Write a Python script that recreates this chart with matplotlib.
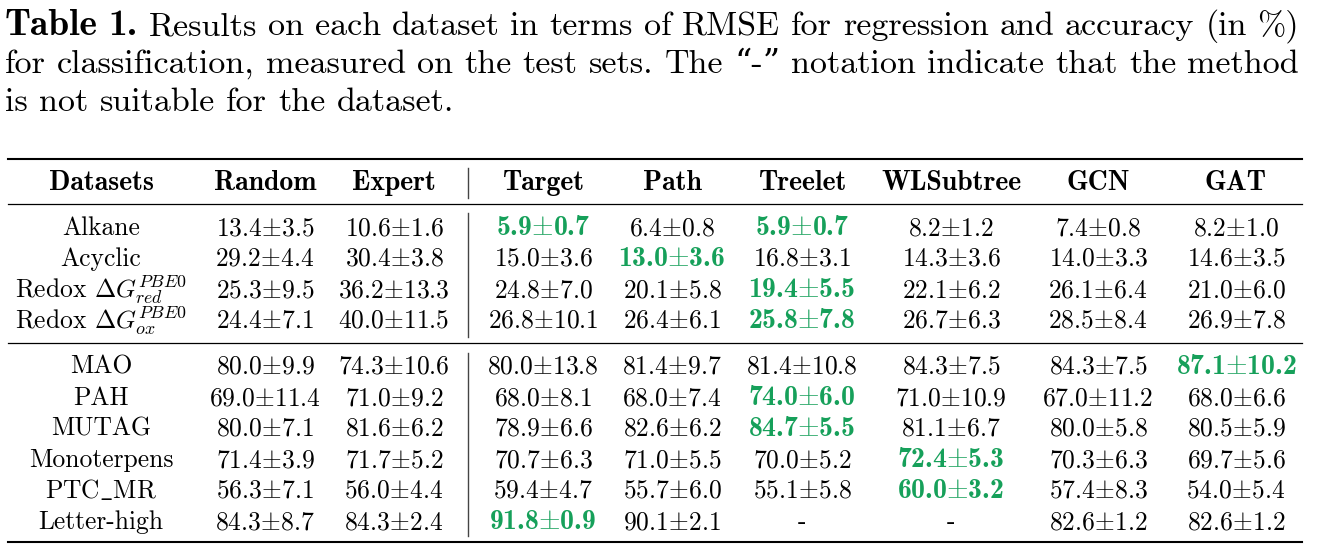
import numpy as np
import matplotlib
matplotlib.use("Agg")
import matplotlib.pyplot as plt

plt.rcParams['mathtext.fontset'] = 'cm'
plt.rcParams['axes.formatter.use_mathtext'] = True

datasets = ['Alkane', 'Acyclic',
            r'Redox $\Delta G_{red}^{PBE0}$', r'Redox $\Delta G_{ox}^{PBE0}$',
            'MAO', 'PAH', 'MUTAG', 'Monoterpens', r'PTC$\_$MR', 'Letter-high']
methods = ['Random', 'Expert', 'Target', 'Path', 'Treelet', 'WLSubtree', 'GCN', 'GAT']
baselines = 2      # Random and Expert are not in the "best" comparison
n_regression = 4   # first 4 rows: RMSE (lower better), rest accuracy (higher better)

random_mean = [13.4, 29.2, 25.3, 24.4, 80.0, 69.0, 80.0, 71.4, 56.3, 84.3]
random_std = [3.5, 4.4, 9.5, 7.1, 9.9, 11.4, 7.1, 3.9, 7.1, 8.7]
expert_mean = [10.6, 30.4, 36.2, 40.0, 74.3, 71.0, 81.6, 71.7, 56.0, 84.3]
expert_std = [1.6, 3.8, 13.3, 11.5, 10.6, 9.2, 6.2, 5.2, 4.4, 2.4]
target_mean = [5.9, 15.0, 24.8, 26.8, 80.0, 68.0, 78.9, 70.7, 59.4, 91.8]
target_std = [0.7, 3.6, 7.0, 10.1, 13.8, 8.1, 6.6, 6.3, 4.7, 0.9]
path_mean = [6.4, 13.0, 20.1, 26.4, 81.4, 68.0, 82.6, 71.0, 55.7, 90.1]
path_std = [0.8, 3.6, 5.8, 6.1, 9.7, 7.4, 6.2, 5.5, 6.0, 2.1]
treelet_mean = [5.9, 16.8, 19.4, 25.8, 81.4, 74.0, 84.7, 70.0, 55.1, None]
treelet_std = [0.7, 3.1, 5.5, 7.8, 10.8, 6.0, 5.5, 5.2, 5.8, None]
wl_mean = [8.2, 14.3, 22.1, 26.7, 84.3, 71.0, 81.1, 72.4, 60.0, None]
wl_std = [1.2, 3.6, 6.2, 6.3, 7.5, 10.9, 6.7, 5.3, 3.2, None]
gcn_mean = [7.4, 14.0, 26.1, 28.5, 84.3, 67.0, 80.0, 70.3, 57.4, 82.6]
gcn_std = [0.8, 3.3, 6.4, 8.4, 7.5, 11.2, 5.8, 6.3, 8.3, 1.2]
gat_mean = [8.2, 14.6, 21.0, 26.9, 87.1, 68.0, 80.5, 69.7, 54.0, 82.6]
gat_std = [1.0, 3.5, 6.0, 7.8, 10.2, 6.6, 5.9, 5.6, 5.4, 1.2]

means = [random_mean, expert_mean, target_mean, path_mean, treelet_mean, wl_mean, gcn_mean, gat_mean]
stds = [random_std, expert_std, target_std, path_std, treelet_std, wl_std, gcn_std, gat_std]

caption = ("Results on each dataset in terms of RMSE for regression and accuracy (in %) "
           "for classification, measured on the test sets. The \u201c-\u201d notation indicate "
           "that the method is not suitable for the dataset.")

# ---- layout ----
GREEN = '#16a05a'
RM = ['cmr10', 'DejaVu Serif']
BF = ['cmb10', 'DejaVu Serif']
tab_fs = 18.4
tab_bf = 20.0

fig = plt.figure(figsize=(13.24, 5.52), dpi=100)
ax = fig.add_axes([0, 0, 1, 1])
ax.set_xlim(0, 1324)
ax.set_ylim(552, 0)
ax.axis('off')
renderer = fig.canvas.get_renderer()

cap_left, cap_right = 5, 1299
x_left, x_right = 8, 1302

# caption font size: the second line fills the width with normal spaces
words_plain = caption.split()
line2 = words_plain[14:28]
probe = [ax.text(0, 0, w, family=RM, fontsize=10) for w in line2]
w10 = sum(t.get_window_extent(renderer).width for t in probe)
for t in probe:
    t.remove()
space_per_pt = 100 / 72 * 0.333
cap_fs = (cap_right - cap_left) / (w10 / 10 + (len(line2) - 1) * space_per_pt)
cap_bf = cap_fs * 1.1

# caption, justified word by word
words = [('Table', BF, cap_bf), ('1.', BF, cap_bf)] + [(w, RM, cap_fs) for w in words_plain]
lines = [words[:16], words[16:30], words[30:]]
cap_base = [35, 73, 111]
for li, (line, yb) in enumerate(zip(lines, cap_base)):
    ts = [ax.text(0, yb, w, family=f, fontsize=s, va='baseline', ha='left') for w, f, s in line]
    ws = [t.get_window_extent(renderer).width for t in ts]
    if li < len(lines) - 1:
        gap = (cap_right - cap_left - sum(ws)) / (len(ts) - 1)
    else:
        gap = cap_fs * space_per_pt
    x = cap_left
    for t, w in zip(ts, ws):
        t.set_x(x)
        x += w + gap

# table rules
ax.plot([x_left, x_right], [159, 159], color='black', lw=1.5)
ax.plot([x_left, x_right], [204, 204], color='black', lw=0.9)
ax.plot([x_left, x_right], [343, 343], color='black', lw=0.9)
ax.plot([x_left, x_right], [542, 542], color='black', lw=1.5)
vx = 468
for y0, y1 in [(168, 198), (213, 337), (353, 536)]:
    ax.plot([vx, vx], [y0, y1], color='#444444', lw=1.0)

col_x = [101, 265, 394, 543, 672, 802, 951, 1098, 1236]
header_base = 190
row_base = [235, 266, 297, 328, 374, 405, 436, 467, 498, 529]

ax.text(col_x[0], header_base, 'Datasets', family=BF, fontsize=tab_bf, ha='center', va='baseline')
for j, m in enumerate(methods):
    ax.text(col_x[j + 1], header_base, m, family=BF, fontsize=tab_bf, ha='center', va='baseline')

for i, name in enumerate(datasets):
    ax.text(col_x[0], row_base[i], name, family=RM, fontsize=tab_fs, ha='center', va='baseline')
    cand = [means[j][i] for j in range(baselines, len(methods)) if means[j][i] is not None]
    best = min(cand) if i < n_regression else max(cand)
    for j in range(len(methods)):
        m, s = means[j][i], stds[j][i]
        if m is None:
            ax.text(col_x[j + 1], row_base[i], '-', family=RM, fontsize=tab_fs, ha='center', va='baseline')
            continue
        txt = f'{m:.1f}$\\pm${s:.1f}'
        if j >= baselines and m == best:
            ax.text(col_x[j + 1], row_base[i], txt, family=BF, fontsize=tab_bf,
                    ha='center', va='baseline', color=GREEN)
        else:
            ax.text(col_x[j + 1], row_base[i], txt, family=RM, fontsize=tab_fs,
                    ha='center', va='baseline')

fig.savefig('out.png', dpi=100)
